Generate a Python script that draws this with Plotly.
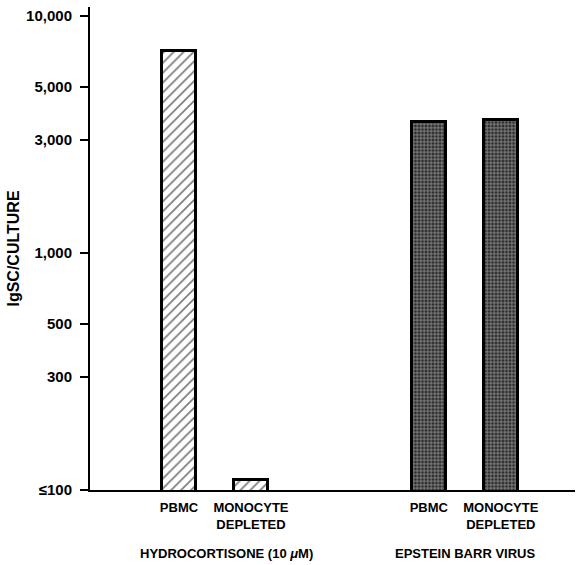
import plotly.graph_objects as go

# ---- data ----
groups = ["HYDROCORTISONE (10 <i>μ</i>M)", "EPSTEIN BARR VIRUS"]
cells = ["PBMC", "MONOCYTE<br>DEPLETED"]
hydrocortisone = [7100, 110]
ebv = [3550, 3650]
y_tickvals = [100, 300, 500, 1000, 3000, 5000, 10000]
y_ticktext = ["≤100", "300", "500", "1,000", "3,000", "5,000", "10,000"]

series = [hydrocortisone, ebv]
group_gap = 3.47
FONT = "Liberation Sans, Arial, Helvetica, sans-serif"

patterns = [
    dict(shape="/", fgcolor="black", bgcolor="white", size=7, solidity=0.25),
    dict(shape="+", fgcolor="white", bgcolor="#2a2a2a", size=3.5, solidity=0.4),
]

fig = go.Figure()
tickvals, ticktext = [], []
for g, vals in enumerate(series):
    xs = [g * group_gap + j for j in range(len(cells))]
    tickvals += xs
    ticktext += cells
    fig.add_trace(go.Bar(
        x=xs, y=vals, width=0.47,
        marker=dict(color="white", line=dict(color="black", width=3),
                    pattern=patterns[g]),
        showlegend=False,
    ))
    fig.add_annotation(
        x=sum(xs) / len(xs), xref="x", y=-0.1325, yref="paper",
        text=groups[g], showarrow=False, yanchor="middle",
        xshift=12 if g == 0 else 0,
        font=dict(family=FONT, size=13, color="black", weight="bold"),
    )

fig.update_layout(
    width=577, height=565,
    margin=dict(l=90, r=2, t=7, b=75),
    paper_bgcolor="white", plot_bgcolor="white",
    font=dict(family=FONT, color="black"),
    bargap=0,
)
fig.update_xaxes(
    range=[-1.236, 5.5], showgrid=False, zeroline=False,
    showline=True, linecolor="black", linewidth=1.5,
    ticks="", tickvals=tickvals, ticktext=ticktext,
    tickfont=dict(family=FONT, size=13, color="black", weight="bold"),
    ticklabelstandoff=5,
)
fig.update_yaxes(
    type="log", range=[2, 4.0367], showgrid=False, zeroline=False,
    showline=True, linecolor="black", linewidth=2,
    ticks="outside", ticklen=8, tickwidth=1.5, tickcolor="black",
    tickvals=y_tickvals, ticktext=y_ticktext,
    tickfont=dict(family=FONT, size=15, color="black", weight="bold"),
    ticklabelstandoff=5,
    title=dict(text="IgSC/CULTURE", standoff=3,
               font=dict(family=FONT, size=16, color="black", weight="bold")),
)

fig.write_html("out.html")
